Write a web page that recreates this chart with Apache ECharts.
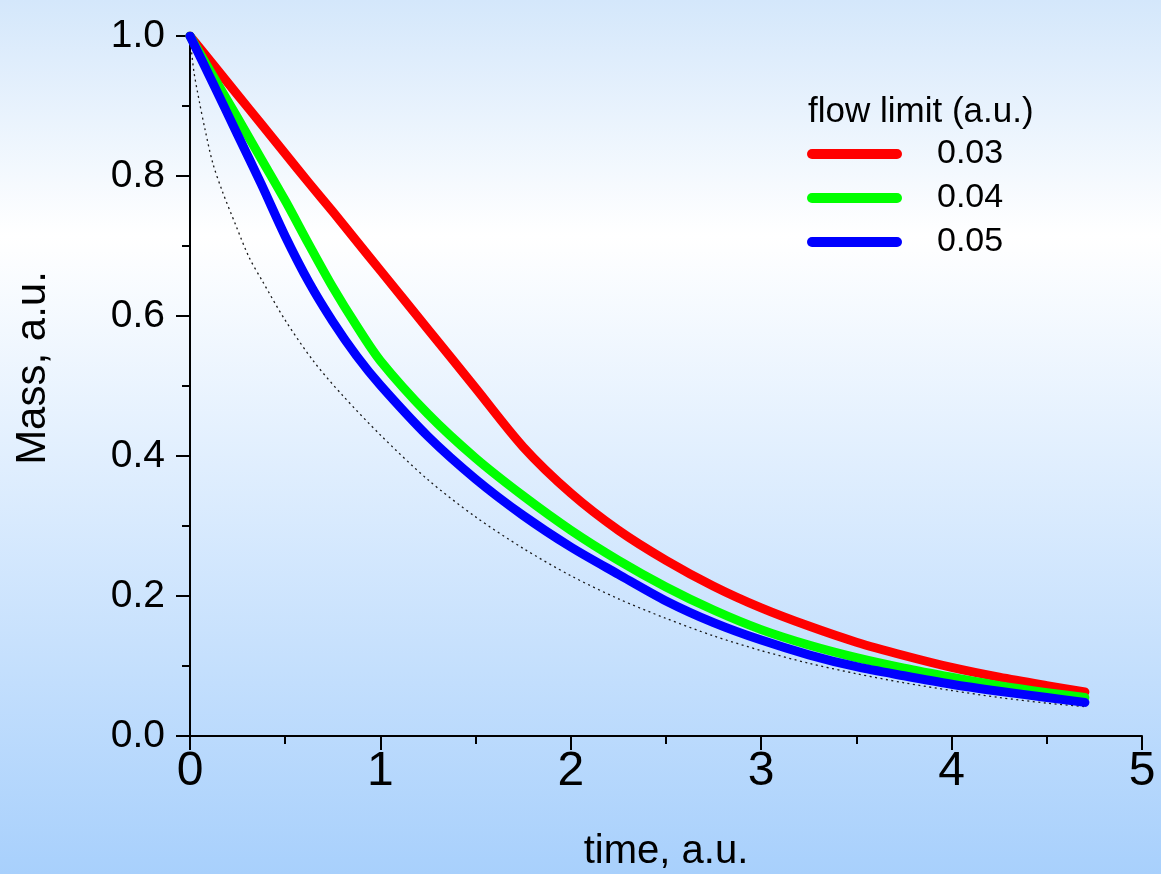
<!DOCTYPE html>
<html>
<head>
<meta charset="utf-8">
<title>Mass vs time</title>
<script src="https://cdn.jsdelivr.net/npm/echarts@6/dist/echarts.min.js"></script>
<style>
  html, body { margin: 0; padding: 0; }
  #chart { width: 1161px; height: 874px; }
</style>
</head>
<body>
<div id="chart"></div>
<script>
// Shared time grid (a.u.) for the three flow-limited curves
const time = [0, 0.125, 0.25, 0.375, 0.5, 0.625, 0.75, 0.875, 1.0, 1.25, 1.5, 1.75, 2.0, 2.25, 2.5, 2.75, 3.0, 3.25, 3.5, 3.75, 4.0, 4.25, 4.5, 4.7];

// Remaining mass for each flow limit
const mass003 = [1.0, 0.958, 0.916, 0.874, 0.832, 0.790, 0.749, 0.707, 0.665, 0.581, 0.497, 0.413, 0.347, 0.294, 0.251, 0.214, 0.183, 0.157, 0.134, 0.115, 0.098, 0.084, 0.072, 0.063];
const mass004 = [1.0, 0.941, 0.883, 0.824, 0.765, 0.702, 0.641, 0.586, 0.536, 0.460, 0.397, 0.343, 0.294, 0.251, 0.213, 0.180, 0.152, 0.130, 0.112, 0.097, 0.084, 0.072, 0.062, 0.055];
const mass005 = [1.0, 0.930, 0.859, 0.788, 0.714, 0.648, 0.592, 0.543, 0.501, 0.428, 0.367, 0.315, 0.270, 0.231, 0.193, 0.162, 0.137, 0.116, 0.099, 0.086, 0.074, 0.064, 0.055, 0.048];

// Unrestricted outflow (dotted reference curve)
const timeFree = [0, 0.02, 0.05, 0.08, 0.12, 0.17, 0.24, 0.31, 0.38, 0.5, 0.65, 0.8, 1.0, 1.25, 1.5, 1.75, 2.0, 2.25, 2.5, 2.75, 3.0, 3.25, 3.5, 3.75, 4.0, 4.25, 4.5, 4.7];
const massFree = [1.0, 0.95, 0.905, 0.865, 0.818, 0.778, 0.730, 0.684, 0.650, 0.594, 0.535, 0.487, 0.430, 0.366, 0.313, 0.268, 0.229, 0.196, 0.168, 0.143, 0.122, 0.104, 0.089, 0.076, 0.065, 0.055, 0.047, 0.042];

const flowLimits = ['0.03', '0.04', '0.05'];
const curveColors = ['#ff0000', '#00ff00', '#0000ff'];
const xTicks = [0, 1, 2, 3, 4, 5];

const pairs = (xs, ys) => xs.map((x, i) => [x, ys[i]]);

const FONT = '"Liberation Sans", Arial, sans-serif';
const chart = echarts.init(document.getElementById('chart'), null, { renderer: 'canvas' });

const thickLine = (name, values, color) => ({
  name: name,
  type: 'line',
  data: pairs(time, values),
  smooth: 0.3,
  showSymbol: false,
  symbol: 'none',
  lineStyle: { color: color, width: 9, cap: 'round', join: 'round' },
  itemStyle: { color: color },
  emphasis: { disabled: true },
  z: 3
});

chart.setOption({
  animation: false,
  backgroundColor: new echarts.graphic.LinearGradient(0, 0, 0, 1, [
    { offset: 0, color: '#d4e7fb' },
    { offset: 0.27, color: '#ffffff' },
    { offset: 1, color: '#a8d0fc' }
  ]),
  title: {
    text: 'flow limit (a.u.)',
    left: 808,
    top: 95,
    padding: 0,
    textStyle: { fontFamily: FONT, fontSize: 35, fontWeight: 'normal', color: '#000' }
  },
  legend: {
    data: flowLimits,
    orient: 'vertical',
    left: 807,
    top: 137,
    padding: 0,
    itemGap: 10,
    itemWidth: 95,
    itemHeight: 10,
    icon: 'path://M5,0H90A5,5,0,0,1,90,10H5A5,5,0,0,1,5,0Z',
    selectedMode: false,
    textStyle: {
      fontFamily: FONT, fontSize: 34, color: '#000',
      lineHeight: 34, padding: [0, 0, 0, 30]
    }
  },
  grid: { left: 190, right: 19, top: 36, bottom: 138, containLabel: false, outerBoundsMode: 'none' },
  xAxis: {
    type: 'value',
    min: xTicks[0],
    max: xTicks[xTicks.length - 1],
    interval: 1,
    name: 'time, a.u.',
    nameLocation: 'middle',
    nameGap: 96,
    nameTextStyle: { fontFamily: FONT, fontSize: 40, color: '#000' },
    axisLine: { show: true, onZero: false, lineStyle: { color: '#000', width: 2 } },
    axisTick: { show: true, inside: false, length: 14, lineStyle: { color: '#000', width: 2 } },
    minorTick: { show: true, splitNumber: 2, length: 8, lineStyle: { color: '#000', width: 2 } },
    axisLabel: { fontFamily: FONT, fontSize: 48, color: '#000', margin: 12 },
    splitLine: { show: false }
  },
  yAxis: {
    type: 'value',
    min: 0,
    max: 1,
    interval: 0.2,
    name: 'Mass, a.u.',
    nameLocation: 'middle',
    nameGap: 136,
    nameTextStyle: { fontFamily: FONT, fontSize: 42, color: '#000', padding: [0, 0, 0, 36] },
    axisLine: { show: true, onZero: false, lineStyle: { color: '#000', width: 2 } },
    axisTick: { show: true, inside: false, length: 14, lineStyle: { color: '#000', width: 2 } },
    minorTick: { show: true, splitNumber: 2, length: 8, lineStyle: { color: '#000', width: 2 } },
    axisLabel: {
      fontFamily: FONT, fontSize: 39, color: '#000', margin: 25,
      formatter: v => v.toFixed(1)
    },
    splitLine: { show: false }
  },
  series: [
    {
      name: 'free outflow',
      type: 'line',
      data: pairs(timeFree, massFree),
      smooth: 0.3,
      showSymbol: false,
      symbol: 'none',
      lineStyle: { color: '#1a1a1a', width: 1.3, type: [2, 3.5] },
      emphasis: { disabled: true },
      z: 2
    },
    thickLine(flowLimits[0], mass003, curveColors[0]),
    thickLine(flowLimits[1], mass004, curveColors[1]),
    thickLine(flowLimits[2], mass005, curveColors[2])
  ]
});
</script>
</body>
</html>
